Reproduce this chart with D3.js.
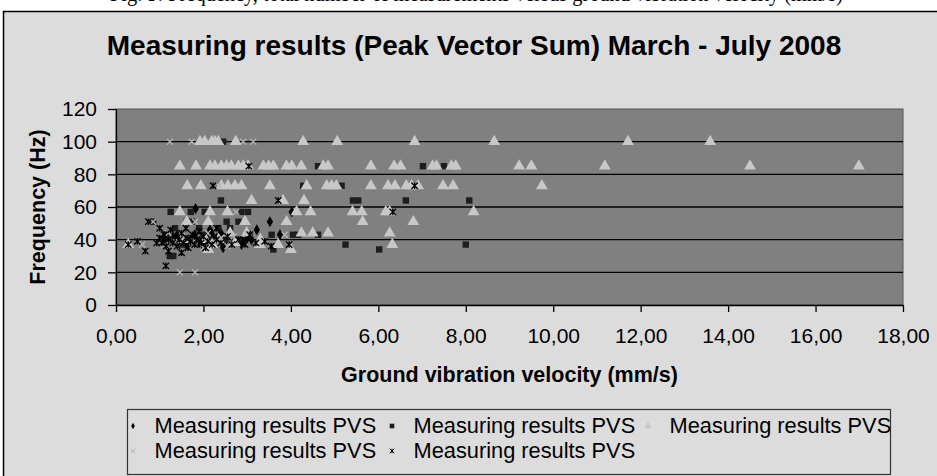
<!DOCTYPE html>
<html>
<head>
<meta charset="utf-8">
<script src="https://cdn.jsdelivr.net/npm/d3@7"></script>
<style>
body { margin: 0; background: #fff; }
svg { display: block; }
</style>
</head>
<body>
<script>
// tick values and labels
var xTicks = [0, 2, 4, 6, 8, 10, 12, 14, 16, 18];
var yTicks = [0, 20, 40, 60, 80, 100, 120];
var seriesNames = ["Measuring results PVS", "Measuring results PVS", "Measuring results PVS",
                   "Measuring results PVS", "Measuring results PVS"];

// [velocity mm/s, frequency Hz]
var diamondPts = [[1.82,59],[4.02,57],[3.52,51],[3.22,46],[2.15,46],[2.6,46],[3.75,43],[3.06,43],
  [2.45,35],[2.87,37],[1.1,40],[1.3,41],[1.5,39],[1.7,40],[1.9,38],[2.1,40],[2.3,41],[2.5,39],
  [2.7,40],[2.9,39],[3.1,40],[1.4,43],[1.8,43],[2.2,43],[1.6,37],[2.0,36],[3.0,41],[2.4,44]];

var squarePts = [[2.45,100],[2.24,85],[2.61,85],[4.62,85],[7.02,85],[7.50,85],[4.28,73],[5.16,73],
  [2.40,64],[5.42,64],[5.54,64],[6.63,64],[8.08,64],[1.25,57],[1.71,57],[2.03,57],[2.87,57],[3.02,57],
  [1.62,51],[1.73,51],[2.53,51],[2.80,51],[2.34,47],[2.61,47],[1.35,47],[1.9,47],[3.56,43],[4.05,43],
  [4.17,43],[4.62,43],[1.3,40],[1.6,40],[1.9,40],[2.2,40],[2.5,40],[2.8,40],[1.5,37],[2.1,37],
  [5.25,37],[8.0,37],[3.60,34],[6.02,34],[1.23,30],[1.31,30],[0.85,51],[1.15,43],[2.0,43]];

var trianglePts = [[1.92,100],[2.03,100],[2.19,100],[2.26,100],[2.34,100],[2.74,100],[4.28,100],
  [5.06,100],[6.83,100],[8.65,100],[11.71,100],[13.59,100],
  [1.46,85],[1.83,85],[2.15,85],[2.26,85],[2.41,85],[2.53,85],[2.64,85],[2.80,85],[2.91,85],[3.02,85],
  [3.37,85],[3.49,85],[3.60,85],[3.90,85],[4.02,85],[4.24,85],[4.74,85],[4.85,85],[5.83,85],[6.36,85],
  [6.51,85],[7.24,85],[7.33,85],[7.67,85],[7.77,85],[9.22,85],[9.50,85],[11.18,85],[14.50,85],[16.99,85],
  [1.63,73],[1.94,73],[2.41,73],[2.56,73],[2.72,73],[2.87,73],[3.52,73],[4.36,73],[4.82,73],[4.93,73],
  [5.04,73],[5.83,73],[6.22,73],[6.38,73],[6.64,73],[6.76,73],[6.91,73],[7.48,73],[7.71,73],[9.74,73],
  [3.10,64],[3.82,64],[4.30,64],
  [1.46,57],[2.15,57],[2.55,57],[4.13,57],[4.45,57],[5.41,57],[5.62,57],[6.17,57],[6.26,57],[8.18,57],
  [1.62,51],[2.11,51],[2.95,51],[3.90,51],[5.64,51],[6.80,51],
  [2.61,44],[2.99,44],[4.24,44],[4.50,44],[4.85,44],[6.26,44],
  [1.55,40],[2.05,40],[2.35,40],[3.30,40],
  [0.28,37],[2.20,37],[2.72,38],[3.29,37],[3.71,37],[6.32,37],
  [2.11,34],[4.00,34]];

var timesPts = [[0.85,51],[1.23,100],[1.73,100],[2.91,100],[3.14,100],[3.04,85],[1.81,51],[3.86,43],
  [1.46,20],[1.81,20],[1.2,44],[1.5,42],[1.8,39],[2.1,44],[2.4,41],[2.7,42],[3.0,44],[1.35,39],
  [2.55,36],[2.0,35],[1.1,37],[0.6,37],[2.35,73],[2.75,57]];

var starPts = [[0.28,37],[0.49,39],[0.67,33],[1.14,24],[0.93,38],[2.22,73],[3.71,64],[3.06,43],
  [3.96,37],[6.83,73],[6.33,57],[0.74,51],[1.0,41],[1.05,38],[1.1,43],[1.15,36],[1.2,40],[1.25,46],
  [1.3,38],[1.35,42],[1.4,36],[1.45,40],[1.5,44],[1.55,38],[1.6,41],[1.65,35],[1.7,39],[1.75,43],
  [1.8,37],[1.85,40],[1.9,45],[1.95,38],[2.0,42],[2.05,35],[2.1,39],[2.2,37],[2.3,40],[2.4,38],
  [2.55,42],[2.65,37],[2.8,40],[2.95,37],[3.2,38],[3.4,39],[3.55,36],[1.2,33],[1.5,32],[1.6,47],
  [1.0,47],[3.04,85],[2.3,47]];

window.onload = function() {
    var w = 937, h = 476;
    var svg = d3.select("body").append("svg")
        .attr("width", w)
        .attr("height", h);

    // bottom of the caption line above the chart (cut off in the screenshot)
    svg.append("text")
        .attr("x", 110).attr("y", 1)
        .attr("textLength", 733).attr("lengthAdjust", "spacingAndGlyphs")
        .style("font-family", "'Liberation Serif', 'Times New Roman', serif")
        .style("font-size", "24px")
        .text("Fig. 5: Frequency, total number of measurements versus ground vibration velocity (mm/s)");

    // chart area
    svg.append("rect")
        .attr("x", 3.5).attr("y", 11.5)
        .attr("width", w).attr("height", h)
        .attr("fill", "#dcdcdc")
        .attr("stroke", "#000")
        .attr("stroke-width", 1.5);

    svg.append("text")
        .attr("x", 474).attr("y", 55)
        .attr("text-anchor", "middle")
        .style("font-family", "'Liberation Sans', Arial, sans-serif")
        .style("font-weight", "bold")
        .style("font-size", "28px")
        .text("Measuring results (Peak Vector Sum) March - July 2008");

    var xScale = d3.scaleLinear().domain([0, 18]).range([116, 903]);
    var yScale = d3.scaleLinear().domain([0, 120]).range([305, 109]);

    // plot area
    svg.append("rect")
        .attr("x", xScale(0)).attr("y", yScale(120))
        .attr("width", xScale(18) - xScale(0))
        .attr("height", yScale(0) - yScale(120))
        .attr("fill", "#808080")
        .attr("stroke", "#555")
        .attr("stroke-width", 1);

    // gridlines
    svg.selectAll(".grid")
        .data(yTicks.filter(function(d) { return d > 0 && d < 120; }))
        .enter().append("line")
        .attr("class", "grid")
        .attr("x1", xScale(0)).attr("x2", xScale(18))
        .attr("y1", function(d) { return yScale(d); })
        .attr("y2", function(d) { return yScale(d); })
        .attr("stroke", "#000")
        .attr("stroke-width", 1.4);

    var yAxis = svg.append("g")
        .attr("transform", "translate(" + xScale(0) + ",0)")
        .call(d3.axisLeft(yScale).tickValues(yTicks).tickSize(8).tickSizeOuter(0).tickPadding(11));
    var xAxis = svg.append("g")
        .attr("transform", "translate(0," + yScale(0) + ")")
        .call(d3.axisBottom(xScale).tickValues(xTicks).tickSize(7).tickSizeOuter(0).tickPadding(16)
            .tickFormat(function(d) { return d3.format(".2f")(d).replace(".", ","); }));

    [yAxis, xAxis].forEach(function(g) {
        g.selectAll("path, line").attr("stroke", "#000").attr("stroke-width", 1.3);
        g.selectAll("text")
            .attr("fill", "#000")
            .style("font-family", "'Liberation Sans', Arial, sans-serif")
            .style("font-size", "21px");
    });

    // axis titles
    svg.append("text")
        .attr("x", (xScale(0) + xScale(18)) / 2).attr("y", 382)
        .attr("text-anchor", "middle")
        .style("font-family", "'Liberation Sans', Arial, sans-serif")
        .style("font-weight", "bold")
        .style("font-size", "21.5px")
        .text("Ground vibration velocity (mm/s)");

    svg.append("text")
        .attr("transform", "translate(45," + (yScale(0) + yScale(120)) / 2 + ") rotate(-90)")
        .attr("text-anchor", "middle")
        .style("font-family", "'Liberation Sans', Arial, sans-serif")
        .style("font-weight", "bold")
        .style("font-size", "21.5px")
        .text("Frequency (Hz)");

    // marker path makers, r = half size
    function markerPath(type, r) {
        if (type === "times") {
            return "M" + (-r) + "," + (-r) + "L" + r + "," + r + "M" + (-r) + "," + r + "L" + r + "," + (-r);
        }
        if (type === "star") {
            return "M" + (-r) + "," + (-r) + "L" + r + "," + r + "M" + (-r) + "," + r + "L" + r + "," + (-r) +
                   "M0," + (-r) + "L0," + r;
        }
        var sym = { diamond: d3.symbolDiamond, square: d3.symbolSquare, triangle: d3.symbolTriangle }[type];
        return d3.symbol().type(sym).size(r * r * 4 * (type === "triangle" ? 0.5 : type === "diamond" ? 0.55 : 1))();
    }

    var series = [
        { pts: diamondPts,  type: "diamond",  fill: "#000",    stroke: "none",  r: 4 },
        { pts: squarePts,   type: "square",   fill: "#1e1e1e", stroke: "none",  r: 3.2 },
        { pts: trianglePts, type: "triangle", fill: "#c8c8c8", stroke: "none",  r: 5.5 },
        { pts: timesPts,    type: "times",    fill: "none",    stroke: "#b4b4b4", r: 3 },
        { pts: starPts,     type: "star",     fill: "none",    stroke: "#000",  r: 3.2 }
    ];

    series.forEach(function(s, i) {
        svg.append("g").selectAll("path")
            .data(s.pts)
            .enter().append("path")
            .attr("transform", function(d) {
                return "translate(" + xScale(d[0]) + "," + yScale(d[1]) + ")";
            })
            .attr("d", markerPath(s.type, s.r))
            .attr("fill", s.fill)
            .attr("stroke", s.stroke)
            .attr("stroke-width", 1.3);
    });

    // legend
    var legend = svg.append("g");
    legend.append("rect")
        .attr("x", 127.5).attr("y", 409.5)
        .attr("width", 763).attr("height", 65)
        .attr("fill", "#dcdcdc")
        .attr("stroke", "#333")
        .attr("stroke-width", 1.2);

    var colX = [133, 392, 648];
    var rowY = [433, 458];
    seriesNames.forEach(function(name, i) {
        var s = series[i];
        var cx = colX[i % 3], by = rowY[Math.floor(i / 3)];
        legend.append("path")
            .attr("transform", "translate(" + cx + "," + (by - 7) + ")")
            .attr("d", markerPath(s.type, s.type === "triangle" ? 3.5 : 2.3))
            .attr("fill", s.fill)
            .attr("stroke", s.stroke)
            .attr("stroke-width", 1);
        legend.append("text")
            .attr("x", cx + 21.5).attr("y", by)
            .style("font-family", "'Liberation Sans', Arial, sans-serif")
            .style("font-size", "21.8px")
            .text(name);
    });
};
</script>
</body>
</html>
